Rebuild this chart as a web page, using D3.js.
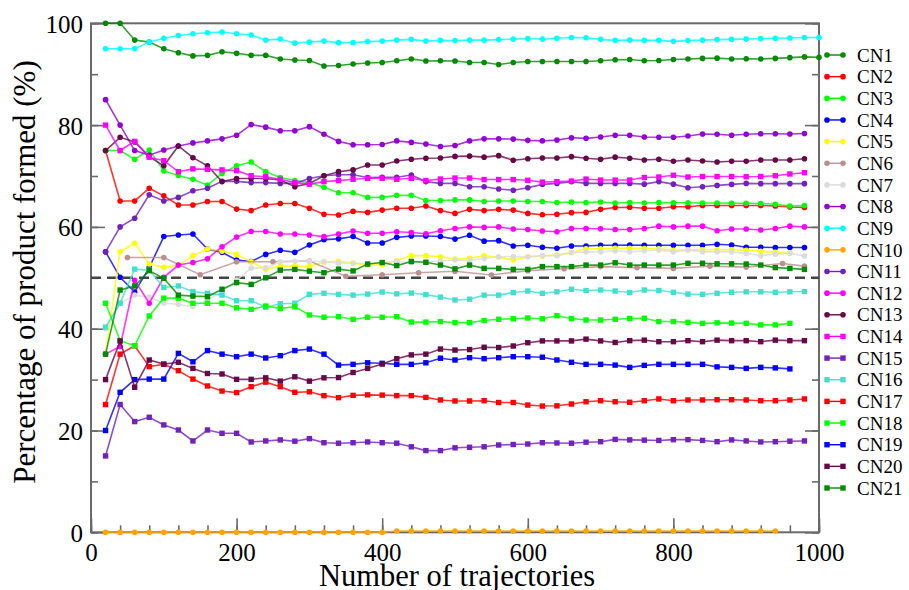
<!DOCTYPE html>
<html>
<head>
<meta charset="utf-8">
<script src="https://cdn.jsdelivr.net/npm/d3@7"></script>
<style>
  body { margin: 0; background: #fff; }
  svg text { font-family: "Liberation Serif", "DejaVu Serif", serif; }
</style>
</head>
<body>
<svg id="chart" width="909" height="590"></svg>
<script>
// number of trajectories at which each set was sampled
var trajectories = [20,40,60,80,100,120,140,160,180,200,220,240,260,280,300,320,340,360,380,400,
  420,440,460,480,500,520,540,560,580,600,620,640,660,680,700,720,740,760,780,800,
  820,840,860,880,900,920,940,960,980,1000];
var trajectoriesCN6 = [50,100,150,200,250,300,350,400,450,500,550,600,650,700,750,800,850,900,950,980];

var cn1 = [100,100,96.7,96.3,95.0,94.2,93.6,93.7,94.4,94.1,93.7,93.7,93.0,92.8,92.7,91.6,91.7,92.0,92.2,
  92.3,92.65,93.0,92.6,92.65,92.6,92.3,92.3,91.9,92.3,92.5,92.5,92.5,92.5,92.5,92.65,92.85,92.9,92.65,92.7,
  92.9,93.0,93.1,93.15,93.0,93.05,93.0,93.1,93.25,93.4,93.3];
var cn2 = [75.0,65.1,65.1,67.6,66.1,64.3,64.3,65.0,65.0,63.5,63.2,64.3,64.6,64.6,63.65,62.5,62.35,63.05,62.85,
  63.3,63.65,63.65,64.1,63.2,62.65,63.45,63.2,63.45,63.3,62.65,62.4,62.5,62.8,62.85,63.45,63.8,63.85,63.65,63.65,
  63.95,63.95,64.2,64.2,64.2,64.2,64.2,64.1,63.9,63.8];
var cn3 = [75.0,75.0,73.3,75.1,71.0,70.1,69.35,68.2,70.5,72.0,72.75,70.85,69.7,69.1,68.7,67.8,66.7,66.7,65.8,
  65.8,66.2,66.2,65.2,65.2,65.3,65.3,65.0,65.1,65.1,65.0,65.0,64.8,64.9,64.8,64.9,64.7,64.8,64.7,64.8,
  64.75,64.75,64.7,64.7,64.65,64.65,64.6,64.45,64.1,64.2];
var cn4 = [55.1,50.1,47.2,52.0,58.1,58.4,58.6,55.65,55.0,53.5,53.2,54.6,55.4,55.0,56.45,57.5,57.65,58.1,56.85,
  56.85,57.95,58.2,58.2,58.1,57.6,58.35,57.2,57.3,56.25,56.4,56.0,55.8,56.25,56.25,56.4,56.4,56.45,56.4,56.4,
  56.4,56.4,56.4,56.6,56.45,56.0,56.0,55.95,55.95,55.95];
var cn5 = [35.0,55.1,56.8,52.7,52.05,52.5,54.35,55.65,55.25,54.6,53.15,51.7,52.3,52.3,52.2,53.1,53.25,52.9,52.5,
  52.6,53.35,54.35,54.35,54.15,53.7,53.85,54.3,54.05,53.5,54.15,54.3,54.45,54.95,55.7,55.7,55.8,55.8,55.75,55.7,
  55.4,55.5,55.5,55.5,55.5,55.4,55.2,55.0,54.85];
var cn6 = [54.0,54.0,50.6,53.15,53.15,53.3,50.3,50.6,51.0,51.3,50.55,51.4,51.8,52.2,52.0,51.85,52.3,52.1,52.8,52.3];
var cn7 = [40.0,45.0,46.6,46.2,45.0,44.8,44.3,45.65,47.3,49.55,51.9,51.95,53.15,53.25,53.25,53.15,52.9,52.85,52.75,
  52.95,53.2,53.0,53.1,53.3,53.5,53.4,53.8,54.15,54.15,54.15,54.35,54.35,54.95,55.1,55.1,55.3,55.1,55.3,55.45,
  55.1,55.45,55.1,55.1,55.1,54.8,54.35,54.65,54.8,54.3];
var cn8 = [85.0,80.0,75.0,74.1,75.1,75.9,76.5,76.9,77.3,78.0,80.1,79.6,78.9,78.9,79.7,78.2,76.8,76.15,76.15,
  76.2,76.9,76.6,76.3,75.8,76.0,76.9,77.3,77.3,77.25,77.0,76.9,77.05,77.5,77.4,77.65,78.0,78.0,77.65,77.6,
  77.6,77.85,78.25,78.2,78.0,78.2,78.3,78.3,78.25,78.35];
var cn9 = [95.0,95.0,95.0,96.3,97.05,97.6,97.95,98.15,98.3,97.95,97.7,96.7,96.9,96.1,96.3,96.5,96.2,96.2,96.4,
  96.5,96.7,96.85,96.5,96.65,96.6,96.7,96.7,96.8,96.9,97.0,96.9,97.05,97.2,97.15,96.85,96.65,96.7,96.65,96.65,
  96.45,96.6,96.7,96.8,96.85,96.9,97.0,97.05,97.1,97.2,97.2];
var cn10 = [0,0,0,0,0,0,0,0,0,0,0,0,0,0,0,0,0,0,0,
  0,0.25,0.25,0.25,0.25,0.25,0.25,0.25,0.25,0.25,0.25,0.25,0.25,0.25,0.25,0.25,0.25,0.25,0.25,0.25,
  0.25,0.25,0.25,0.25,0.25,0.25,0.25,0.25];
var cn11 = [55.1,60.0,61.7,66.3,65.1,65.8,67.1,67.6,68.95,68.95,68.7,68.7,68.55,68.55,69.5,70.05,70.25,70.25,69.7,
  69.75,69.75,70.2,68.9,68.55,68.55,67.9,67.9,67.45,67.2,67.7,68.35,68.55,68.9,68.55,68.55,68.55,68.55,68.4,68.9,
  68.4,67.7,67.9,68.15,68.35,68.55,68.5,68.5,68.5,68.5];
var cn12 = [35.0,36.5,49.5,45.0,50.1,52.5,53.0,53.75,56.1,58.0,59.1,59.1,58.6,58.6,58.4,58.1,58.6,59.2,58.75,
  58.75,59.05,58.9,58.65,59.25,59.7,60.0,59.9,60.0,59.6,59.5,59.2,59.05,59.7,59.7,59.65,59.5,59.5,59.7,60.15,
  60.0,60.15,60.15,59.25,59.6,59.6,59.4,59.7,60.15,60.0];
var cn13 = [75.0,77.6,76.7,73.8,72.0,75.9,73.6,72.0,68.9,69.5,69.5,69.5,69.2,67.9,68.55,70.05,70.85,71.2,72.15,
  72.15,72.95,73.3,73.5,73.55,73.85,73.9,73.7,74.0,73.1,73.4,73.55,73.55,73.8,73.5,73.3,73.7,73.5,73.15,73.3,
  72.9,73.15,72.95,72.75,72.9,72.9,73.15,73.15,73.15,73.4];
var cn14 = [80.0,75.0,76.8,73.7,73.0,70.85,71.4,71.3,71.2,71.05,70.05,69.85,69.35,68.7,68.4,68.9,69.1,69.35,69.55,
  69.55,69.35,69.55,69.1,69.4,69.6,69.6,69.3,69.3,69.3,69.15,68.8,68.9,69.0,69.4,69.2,69.2,69.2,69.7,69.8,
  70.15,69.8,69.9,69.9,69.9,69.85,69.9,70.05,70.4,70.65];
var cn15 = [15.0,25.1,21.75,22.6,21.1,20.1,17.95,20.1,19.45,19.45,17.75,17.95,18.15,17.9,18.4,17.6,17.5,17.6,17.75,
  17.6,17.5,16.8,16.05,16.05,16.6,16.7,16.8,17.15,17.25,17.35,17.6,17.55,17.5,17.7,17.8,18.25,18.15,18.1,18.05,
  18.2,18.2,18.05,17.8,18.15,17.95,17.75,17.8,17.9,17.95];
var cn16 = [40.3,45.0,51.7,51.5,48.1,48.4,47.3,46.95,46.6,45.5,45.5,44.2,44.9,45.0,46.75,46.95,46.75,46.6,46.8,
  47.2,46.85,47.0,46.7,46.2,45.65,45.8,46.6,46.6,47.1,47.4,46.95,47.25,47.75,47.5,47.6,47.4,47.1,47.6,47.5,
  47.15,46.8,46.75,46.95,47.15,47.25,47.25,47.15,47.25,47.3];
var cn17 = [25.1,35.0,36.65,32.55,33.0,31.75,30.1,28.75,27.75,27.45,28.6,29.5,28.6,27.5,27.6,26.85,26.45,26.9,27.0,
  26.95,26.85,26.85,26.5,26.0,25.8,25.8,25.85,25.5,25.5,25.0,24.8,24.85,25.2,25.65,25.85,25.65,25.55,25.85,26.2,
  25.85,26.0,26.0,26.05,26.05,26.0,25.85,25.85,26.0,26.2];
var cn18 = [45.0,37.65,36.65,42.5,46.0,46.0,45.0,45.0,45.0,44.1,43.8,44.45,44.0,44.3,42.7,42.25,42.35,41.85,42.25,
  42.25,42.35,41.3,41.3,41.4,41.2,41.2,41.6,41.85,41.95,42.1,41.95,42.55,42.0,41.7,41.7,41.85,42.0,42.05,41.4,
  41.4,41.25,41.05,41.15,41.1,41.05,40.75,40.75,41.05];
var cn19 = [20.0,27.5,30.0,30.1,30.1,35.15,33.5,35.7,35.0,34.5,35.0,34.25,34.7,35.7,36.0,35.0,32.85,33.0,33.3,
  33.2,33.0,33.0,33.3,34.2,33.85,34.3,34.1,34.3,34.5,34.5,34.4,33.85,33.4,33.0,33.0,32.85,32.4,32.8,33.0,
  33.0,33.0,33.0,32.5,32.4,32.2,32.4,32.3,32.1];
var cn20 = [30.0,37.6,28.5,33.85,33.05,33.4,32.2,31.2,31.1,30.05,30.05,30.35,29.7,30.55,29.7,30.35,30.4,31.4,32.2,
  33.05,34.1,34.85,35.0,36.0,35.8,35.9,36.35,36.3,36.6,37.25,37.6,37.6,37.6,37.95,37.6,37.3,37.65,37.75,37.45,
  37.45,37.65,37.45,37.75,37.65,37.65,37.45,37.75,37.65,37.65];
var cn21 = [35.0,47.6,48.4,51.4,49.9,46.6,46.4,46.3,47.75,49.05,48.7,50.0,51.5,51.65,51.3,51.0,51.7,51.35,52.7,
  53.0,52.4,53.2,53.05,52.5,51.75,52.5,51.85,51.85,51.65,51.65,52.2,52.2,52.2,52.5,52.5,52.95,52.5,52.5,52.5,
  52.5,52.85,52.85,52.75,52.75,52.7,52.5,52.0,51.85,51.65];

var seriesNames = ["CN1","CN2","CN3","CN4","CN5","CN6","CN7","CN8","CN9","CN10","CN11",
  "CN12","CN13","CN14","CN15","CN16","CN17","CN18","CN19","CN20","CN21"];
var seriesValues = [cn1,cn2,cn3,cn4,cn5,cn6,cn7,cn8,cn9,cn10,cn11,cn12,cn13,cn14,cn15,cn16,cn17,cn18,cn19,cn20,cn21];
var seriesColors = ["#008b00","#ff0000","#00ff00","#0000ff","#ffff00","#bc8f8f","#dcdcdc","#9400d3","#00ffff",
  "#ffa500","#7221bc","#ff00ff","#670748","#ff00ff","#7221bc","#40e0d0","#ff0000","#00ff00","#0000ff","#670748","#008b00"];
var seriesMarkers = ["circle","circle","circle","circle","circle","circle","circle","circle","circle","circle",
  "circle","circle","circle","square","square","square","square","square","square","square","square"];

var xTicks = [0,200,400,600,800,1000];
var yTicks = [0,20,40,60,80,100];

var serif = "'Liberation Serif', 'DejaVu Serif', serif";
var svg = d3.select("#chart");
var x = d3.scaleLinear().domain([0, 1000]).range([91, 819]);
var y = d3.scaleLinear().domain([0, 100]).range([532.3, 23.3]);
var axisColor = "#6a6a6a";

var series = seriesNames.map(function(name, i) {
  var xs = i === 5 ? trajectoriesCN6 : trajectories;
  return {
    name: name,
    color: seriesColors[i],
    marker: seriesMarkers[i],
    values: seriesValues[i].map(function(v, j) { return {x: xs[j], y: v}; })
  };
});

// axes, ticks pointing inward
var bottomAxis = d3.axisBottom(x).tickValues(xTicks).tickSize(-14).tickPadding(11).tickFormat(d3.format("d"));
var bottomMinor = d3.axisBottom(x).tickValues(d3.range(0, 1001, 40)).tickSize(-7).tickFormat("");
var leftAxis = d3.axisLeft(y).tickValues(yTicks).tickSize(-14).tickPadding(8).tickFormat(d3.format("d"));
var leftMinor = d3.axisLeft(y).tickValues(d3.range(0, 101, 10)).tickSize(-7).tickFormat("");
var rightAxis = d3.axisRight(y).tickValues(yTicks).tickSize(-14).tickFormat("");
var rightMinor = d3.axisRight(y).tickValues(d3.range(0, 101, 10)).tickSize(-7).tickFormat("");

function styleAxis(g) {
  g.attr("font-family", serif);
  g.select(".domain").remove();
  g.selectAll("line").attr("stroke", axisColor).attr("stroke-width", 1.6);
  g.selectAll("text").attr("fill", "#000").style("font-size", "25px");
}

svg.append("g").attr("transform", "translate(0,532.3)").call(bottomMinor).call(styleAxis);
svg.append("g").attr("transform", "translate(0,532.3)").call(bottomAxis).call(styleAxis);
svg.append("g").attr("transform", "translate(91,0)").call(leftMinor).call(styleAxis);
svg.append("g").attr("transform", "translate(91,0)").call(leftAxis).call(styleAxis)
  .selectAll("text").attr("dy", "0.36em");
svg.append("g").attr("transform", "translate(819,0)").call(rightMinor).call(styleAxis);
svg.append("g").attr("transform", "translate(819,0)").call(rightAxis).call(styleAxis);

svg.append("rect")
  .attr("x", x(0)).attr("y", y(100))
  .attr("width", x(1000) - x(0)).attr("height", y(0) - y(100))
  .attr("fill", "none").attr("stroke", axisColor).attr("stroke-width", 2);

// 50% reference line
svg.append("line")
  .attr("x1", x(0)).attr("x2", x(1000))
  .attr("y1", y(50)).attr("y2", y(50))
  .attr("stroke", "#444").attr("stroke-width", 2.5).attr("stroke-dasharray", "10,6");

var line = d3.line()
  .x(function(d) { return x(d.x); })
  .y(function(d) { return y(d.y); });

var sets = svg.append("g").selectAll(".set")
  .data(series)
  .enter().append("g").attr("class", "set");

sets.append("path")
  .attr("d", function(d) { return line(d.values); })
  .attr("fill", "none")
  .attr("stroke", function(d) { return d.color; })
  .attr("stroke-width", 1.6)
  .attr("stroke-opacity", 0.8);

function drawMarker(sel, kind, color) {
  if (kind === "circle") {
    sel.append("circle").attr("r", 2.8).attr("fill", color);
  } else {
    sel.append("rect").attr("x", -2.7).attr("y", -2.7).attr("width", 5.4).attr("height", 5.4).attr("fill", color);
  }
}

sets.each(function(s) {
  d3.select(this).selectAll(".pt")
    .data(s.values)
    .enter().append("g").attr("class", "pt")
    .attr("transform", function(d) { return "translate(" + x(d.x) + "," + y(d.y) + ")"; })
    .each(function() { drawMarker(d3.select(this), s.marker, s.color); });
});

// axis titles
svg.append("text")
  .attr("x", 457).attr("y", 586)
  .attr("text-anchor", "middle")
  .attr("font-family", serif)
  .style("font-size", "30.5px")
  .text("Number of trajectories");

svg.append("text")
  .attr("transform", "translate(35,272) rotate(-90)")
  .attr("text-anchor", "middle")
  .attr("font-family", serif)
  .style("font-size", "31px")
  .text("Percentage of product formed (%)");

// legend
var legend = svg.append("g").selectAll(".legend")
  .data(series)
  .enter().append("g").attr("class", "legend")
  .attr("transform", function(d, i) { return "translate(0," + (55 + i * 21.65) + ")"; });

legend.append("line")
  .attr("x1", 827).attr("x2", 843)
  .attr("stroke", function(d) { return d.color; })
  .attr("stroke-width", 1.4);

legend.each(function(s) {
  var g = d3.select(this);
  [827, 843].forEach(function(px) {
    drawMarker(g.append("g").attr("transform", "translate(" + px + ",0)"), s.marker, s.color);
  });
});

legend.append("text")
  .attr("x", 857).attr("dy", "0.35em")
  .attr("font-family", serif)
  .style("font-size", "19px")
  .text(function(d) { return d.name; });
</script>
</body>
</html>
